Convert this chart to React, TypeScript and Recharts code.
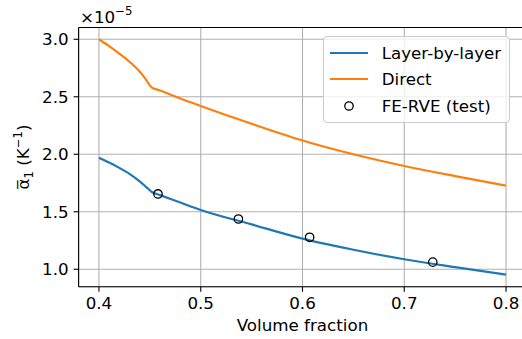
import React from 'react';
import {
  LineChart,
  Line,
  XAxis,
  YAxis,
  CartesianGrid,
  ReferenceLine,
  Legend,
  Label
} from 'recharts';

// values in units of 1e-5 K^-1
const VF_LAYER = [0.40, 0.41, 0.42, 0.43, 0.44, 0.447, 0.452, 0.46, 0.48, 0.50, 0.55, 0.60, 0.65, 0.70, 0.75, 0.80];
const ALPHA_LAYER = [1.97, 1.928, 1.882, 1.83, 1.765, 1.71, 1.672, 1.645, 1.58, 1.516, 1.39, 1.266, 1.17, 1.087, 1.018, 0.953];

const VF_DIRECT = [0.40, 0.41, 0.42, 0.43, 0.44, 0.445, 0.452, 0.46, 0.48, 0.50, 0.55, 0.60, 0.65, 0.70, 0.75, 0.80];
const ALPHA_DIRECT = [3.0, 2.94, 2.875, 2.805, 2.72, 2.665, 2.58, 2.555, 2.485, 2.42, 2.265, 2.12, 2.0, 1.898, 1.81, 1.727];

const VF_FE = [0.458, 0.537, 0.607, 0.728];
const ALPHA_FE = [1.655, 1.437, 1.278, 1.062];

const X_TICKS = [0.4, 0.5, 0.6, 0.7, 0.8];
const Y_TICKS = [1.0, 1.5, 2.0, 2.5, 3.0];

const SERIES_NAMES = ['Layer-by-layer', 'Direct', 'FE-RVE (test)'];

const FONT = '"DejaVu Sans", sans-serif';
const FS = 16.7;
const BLUE = '#1f77b4';
const ORANGE = '#ff7f0e';

const toPoints = (xs: number[], ys: number[]) => xs.map((x, i) => ({ x, y: ys[i] }));

const layerData = toPoints(VF_LAYER, ALPHA_LAYER);
const directData = toPoints(VF_DIRECT, ALPHA_DIRECT);
const feData = toPoints(VF_FE, ALPHA_FE);

const Y_MIN = 0.8475;
const Y_MAX = 3.1025;

const CustomLegend = ({ payload }: any) => {
  if (!payload) return null;
  // keep the order in which the series are plotted
  const items = [...payload].sort(
    (a: any, b: any) => SERIES_NAMES.indexOf(a.value) - SERIES_NAMES.indexOf(b.value)
  );
  return (
    <div
      style={{
        fontFamily: FONT,
        fontSize: FS,
        background: 'rgba(255,255,255,0.8)',
        border: '1px solid #cccccc',
        borderRadius: 4,
        padding: '3px 8px 3px 6px',
        boxSizing: 'border-box'
      }}
    >
      {items.map((entry: any, index: number) => (
        <div key={`leg-${index}`} style={{ display: 'flex', alignItems: 'center', height: 26.3 }}>
          <svg width={38} height={12} style={{ marginRight: 14 }}>
            {entry.type === 'circle' ? (
              <circle cx={19} cy={6} r={4.2} fill="none" stroke="#000" strokeWidth={1.3} />
            ) : (
              <line x1={0} y1={6} x2={38} y2={6} stroke={entry.color} strokeWidth={2.2} />
            )}
          </svg>
          <span style={{ color: '#000', whiteSpace: 'nowrap' }}>{entry.value}</span>
        </div>
      ))}
    </div>
  );
};

const AxisTexts = () => (
  <g fontFamily={FONT} fill="#000">
    <text x={80} y={23.3} fontSize={FS}>
      ×10
      <tspan fontSize={11.7} dy={-8}>−5</tspan>
    </text>
    <text
      x={29}
      y={157}
      fontSize={FS}
      textAnchor="middle"
      transform="rotate(-90, 29, 157)"
    >
      α̅
      <tspan fontSize={11.7} dy={4}>1</tspan>
      <tspan dy={-4}> (K</tspan>
      <tspan fontSize={11.7} dy={-7}>−1</tspan>
      <tspan dy={7}>)</tspan>
    </text>
  </g>
);

export default function App() {
  return (
    <div
      style={{
        position: 'fixed',
        left: 0,
        top: 0,
        width: 522,
        height: 339,
        overflow: 'hidden',
        background: '#fff'
      }}
    >
      <LineChart
        width={540}
        height={339}
        margin={{ top: 27.5, right: 13.6, left: 0, bottom: 0 }}
        style={{ fontFamily: FONT }}
      >
        <CartesianGrid stroke="#b0b0b0" strokeWidth={1.1} />
        <XAxis
          dataKey="x"
          type="number"
          domain={[0.38, 0.82]}
          ticks={X_TICKS}
          tickFormatter={(v: number) => v.toFixed(1)}
          allowDataOverflow
          height={52.2}
          stroke="#000"
          strokeWidth={1.1}
          tickSize={5}
          tickMargin={5}
          tick={{ fill: '#000', fontSize: FS, fontFamily: FONT }}
        >
          <Label
            value="Volume fraction"
            position="insideBottom"
            offset={8}
            style={{ fill: '#000', fontSize: FS, fontFamily: FONT }}
          />
        </XAxis>
        <YAxis
          type="number"
          domain={[Y_MIN, Y_MAX]}
          ticks={Y_TICKS}
          tickFormatter={(v: number) => v.toFixed(1)}
          allowDataOverflow
          width={78.6}
          stroke="#000"
          strokeWidth={1.1}
          tickSize={5}
          tickMargin={5}
          tick={{ fill: '#000', fontSize: FS, fontFamily: FONT }}
        >
          <Label content={() => <AxisTexts />} />
        </YAxis>
        <ReferenceLine y={Y_MAX} stroke="#000" strokeWidth={1.1} />
        <Line
          data={layerData}
          dataKey="y"
          name={SERIES_NAMES[0]}
          type="monotone"
          stroke={BLUE}
          strokeWidth={2.2}
          dot={false}
          activeDot={false}
          legendType="line"
          isAnimationActive={false}
        />
        <Line
          data={directData}
          dataKey="y"
          name={SERIES_NAMES[1]}
          type="monotone"
          stroke={ORANGE}
          strokeWidth={2.2}
          dot={false}
          activeDot={false}
          legendType="line"
          isAnimationActive={false}
        />
        <Line
          data={feData}
          dataKey="y"
          name={SERIES_NAMES[2]}
          stroke="none"
          dot={{ r: 4.2, fill: 'none', stroke: '#000', strokeWidth: 1.3 }}
          activeDot={false}
          legendType="circle"
          isAnimationActive={false}
        />
        <Legend
          layout="horizontal"
          verticalAlign="middle"
          align="center"
          content={<CustomLegend />}
          wrapperStyle={{ left: 322.7, top: 36, width: 'auto', height: 'auto' }}
        />
      </LineChart>
    </div>
  );
}
